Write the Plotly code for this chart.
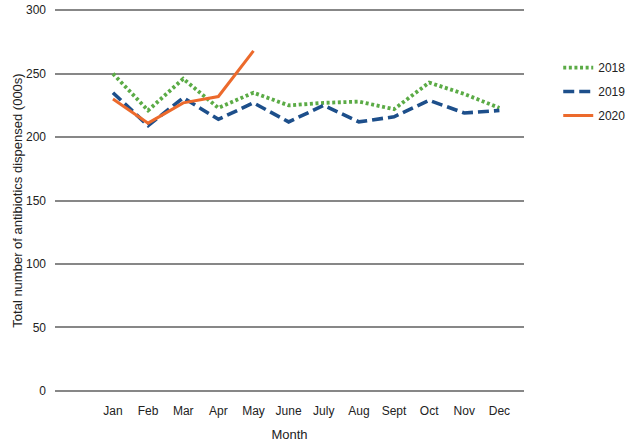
import plotly.graph_objects as go

months = ["Jan", "Feb", "Mar", "Apr", "May", "June", "July", "Aug", "Sept", "Oct", "Nov", "Dec"]
y2018 = [250, 221, 246, 223, 235, 225, 227, 228, 222, 243, 234, 223]
y2019 = [235, 209, 231, 214, 227, 212, 225, 212, 216, 229, 219, 221]
y2020 = [230, 211, 227, 232, 268]

font = "Liberation Sans, Arial, sans-serif"

fig = go.Figure()
fig.add_trace(go.Scatter(x=months, y=y2018, name="2018", mode="lines", legendgroup="a",
                         line=dict(color="#5bab46", width=3.8, dash="3px,2.6px")))
fig.add_trace(go.Scatter(x=months, y=y2019, name="2019", mode="lines", legendgroup="b",
                         line=dict(color="#1d4f8b", width=3.6, dash="11px,5px")))
fig.add_trace(go.Scatter(x=months[:len(y2020)], y=y2020, name="2020", mode="lines", legendgroup="c",
                         line=dict(color="#ec6a2c", width=3)))

fig.update_layout(
    width=642, height=447,
    margin=dict(l=55, r=118, t=9, b=55),
    plot_bgcolor="white", paper_bgcolor="white",
    font=dict(family=font, size=12, color="#222222"),
    showlegend=True,
    legend=dict(x=1.073, y=0.885, xanchor="left", yanchor="top",
                font=dict(size=12, color="#222222"), tracegroupgap=5,
                bgcolor="rgba(0,0,0,0)"),
    xaxis=dict(type="category", range=[-1.65, 11.7], showgrid=False, zeroline=False,
               showline=False, ticks="", ticklabelstandoff=10, automargin=False,
               title=dict(text="Month", standoff=12, font=dict(size=13))),
    yaxis=dict(range=[-1, 301], tickvals=[0, 50, 100, 150, 200, 250, 300],
               showgrid=True, gridcolor="#878787", gridwidth=2,
               zeroline=False, showline=False, ticks="", ticklabelstandoff=8, automargin=False,
               title=dict(text="Total number of antibiotics dispensed (000s)", standoff=0,
                          font=dict(size=13))),
)

fig.write_html("out.html", config={"displayModeBar": False},
               post_script="document.body.style.margin='0px';")
